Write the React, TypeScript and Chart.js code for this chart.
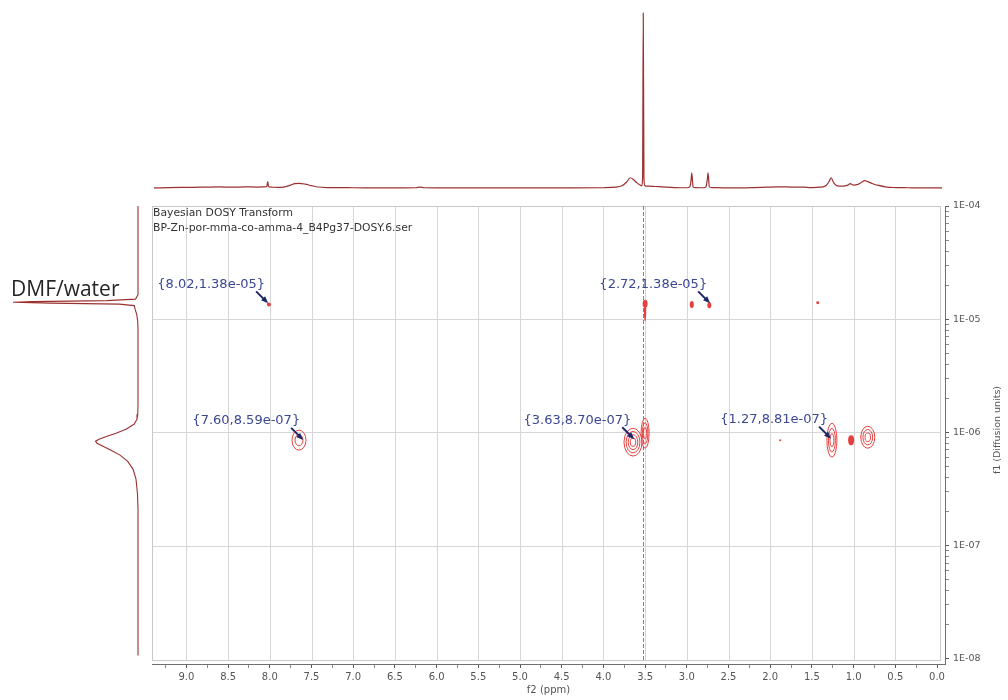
import React, { useEffect, useRef } from 'react';
import { Chart, registerables } from 'chart.js';

Chart.register(...registerables);

// ---------------- data ----------------
// 1D projection on top (f2, ppm)
const spectrumPpm = [
  9.39, 9.2, 9.0, 8.8, 8.6, 8.45, 8.3, 8.15, 8.06, 8.035, 8.025, 8.015, 7.98, 7.9, 7.82, 7.75,
  7.7, 7.65, 7.58, 7.5, 7.42, 7.3, 7.0, 6.6, 6.25, 6.2, 6.15, 5.8, 5.0, 4.4, 4.0, 3.85,
  3.78, 3.72, 3.68, 3.64, 3.6, 3.56, 3.54, 3.53, 3.522, 3.514, 3.505, 3.49, 3.45, 3.38, 3.3, 3.15,
  3.0, 2.965, 2.95, 2.94, 2.925, 2.9, 2.8, 2.77, 2.755, 2.745, 2.73, 2.7, 2.5, 2.3, 2.2, 2.05,
  1.9, 1.75, 1.6, 1.5, 1.4, 1.33, 1.29, 1.27, 1.24, 1.2, 1.13, 1.07, 1.04, 1.0, 0.95, 0.9,
  0.87, 0.83, 0.77, 0.7, 0.62, 0.5, 0.35, 0.15, -0.06,
];
const spectrumIntensity = [
  0.0, 0.002, 0.003, 0.004, 0.006, 0.004, 0.006, 0.005, 0.006, 0.01, 0.036, 0.008, 0.004, 0.003, 0.006, 0.016,
  0.024, 0.026, 0.022, 0.013, 0.005, 0.002, 0.001, 0.0, 0.001, 0.004, 0.001, 0.0, 0.0, 0.0, 0.001, 0.004,
  0.012, 0.034, 0.058, 0.048, 0.03, 0.016, 0.012, 0.06, 1.0, 0.06, 0.014, 0.01, 0.01, 0.008, 0.006, 0.002,
  0.001, 0.006, 0.04, 0.086, 0.006, 0.002, 0.001, 0.006, 0.045, 0.086, 0.006, 0.002, 0.0, 0.0, 0.002, 0.004,
  0.006, 0.005, 0.004, 0.002, 0.004, 0.014, 0.04, 0.058, 0.03, 0.012, 0.01, 0.016, 0.024, 0.016, 0.02, 0.034,
  0.042, 0.036, 0.024, 0.014, 0.006, 0.002, 0.001, 0.0, 0.0,
];

// 1D projection on the left (f1, diffusion)
const projD = [
  1e-4, 1.65e-5, 1.503e-5, 1.458e-5, 1.429e-5, 1.412e-5, 1.387e-5, 1.358e-5, 1.318e-5, 1.215e-5, 1.098e-5, 9.53e-6,
  8.1e-6, 1.771e-6, 1.446e-6, 1.307e-6, 1.181e-6, 1.067e-6, 9.84e-7, 9.26e-7, 8.71e-7, 8.37e-7, 8.03e-7, 7.56e-7,
  6.97e-7, 6.3e-7, 5.58e-7, 4.74e-7, 3.87e-7, 2.86e-7, 2.11e-7, 1.07e-8,
];
const projIntensity = [
  0.0, 0.0, 0.02, 0.25, 0.85, 1.0, 0.7, 0.15, 0.03, 0.022, 0.01, 0.002,
  0.0, 0.0, 0.002, 0.008, 0.032, 0.096, 0.176, 0.248, 0.312, 0.34, 0.328, 0.28,
  0.216, 0.144, 0.084, 0.04, 0.016, 0.004, 0.0, 0.0,
];
const projLabel = 'DMF/water';

// picked peaks
const annPpm = [8.02, 2.72, 7.6, 3.63, 1.27];
const annD = [1.38e-5, 1.38e-5, 8.59e-7, 8.7e-7, 8.81e-7];
const annLabels = ['{8.02,1.38e-05}', '{2.72,1.38e-05}', '{7.60,8.59e-07}', '{3.63,8.70e-07}', '{1.27,8.81e-07}'];

// DOSY contour peaks (centre, half width in ppm, half height in decades, number of levels)
const contourPpm = [8.01, 3.5, 3.5, 2.94, 2.73, 1.43, 7.65, 3.645, 3.5, 1.26, 1.03, 0.83, 1.88];
const contourD = [1.35e-5, 1.37e-5, 1.17e-5, 1.35e-5, 1.33e-5, 1.4e-5, 8.54e-7, 8.2e-7, 9.84e-7, 8.54e-7, 8.54e-7, 9.07e-7, 8.54e-7];
const contourHalfWidthPpm = [0.024, 0.03, 0.014, 0.024, 0.024, 0.018, 0.084, 0.108, 0.048, 0.06, 0.036, 0.084, 0.012];
const contourHalfHeightDec = [0.018, 0.035, 0.088, 0.031, 0.026, 0.013, 0.088, 0.123, 0.132, 0.15, 0.044, 0.097, 0.009];
const contourLevels = [1, 1, 1, 1, 1, 1, 2, 4, 3, 3, 1, 3, 1];

const cursorPpm = 3.52;

// axes
const xMajorTicks = [9.0, 8.5, 8.0, 7.5, 7.0, 6.5, 6.0, 5.5, 5.0, 4.5, 4.0, 3.5, 3.0, 2.5, 2.0, 1.5, 1.0, 0.5, 0.0];
const xTickLabels = ['9.0', '8.5', '8.0', '7.5', '7.0', '6.5', '6.0', '5.5', '5.0', '4.5', '4.0', '3.5', '3.0', '2.5', '2.0', '1.5', '1.0', '0.5', '0.0'];
const xMinorTicks = [9.25, 8.75, 8.25, 7.75, 7.25, 6.75, 6.25, 5.75, 5.25, 4.75, 4.25, 3.75, 3.25, 2.75, 2.25, 1.75, 1.25, 0.75, 0.25];
const yMajorTicks = [1e-8, 1e-7, 1e-6, 1e-5, 1e-4];
const yTickLabels = ['1E-08', '1E-07', '1E-06', '1E-05', '1E-04'];
const yMinorFactors = [2, 3, 4, 5, 6, 7, 8, 9];
const titleLines = ['Bayesian DOSY Transform', 'BP-Zn-por-mma-co-amma-4_B4Pg37-DOSY.6.ser'];
const xTitle = 'f2 (ppm)';
const yTitle = 'f1 (Diffusion units)';

// ---------------- geometry ----------------
const W = 1008;
const H = 700;
const X_MIN = -0.0959;
const X_MAX = 9.4125;
const Y_MIN = 9.296e-9;
const Y_MAX = 1e-4;
const FRAME_RIGHT = 940;
const FRAME_BOTTOM = 660;
const FONT = '"DejaVu Sans", Verdana, sans-serif';

const decorPlugin = {
  id: 'dosyDecor',
  beforeDatasetsDraw(chart: any) {
    const { ctx, chartArea, scales } = chart;
    const x = scales.x;
    const y = scales.y;
    const L = chartArea.left;
    const T = chartArea.top;
    ctx.save();
    ctx.strokeStyle = '#d6d6d6';
    ctx.lineWidth = 1;
    ctx.beginPath();
    xMajorTicks.forEach((v) => {
      if (v <= 0) return;
      const px = Math.round(x.getPixelForValue(v)) + 0.5;
      ctx.moveTo(px, T);
      ctx.lineTo(px, FRAME_BOTTOM);
    });
    yMajorTicks.forEach((v) => {
      if (v >= Y_MAX || v <= 1e-8) return;
      const py = Math.round(y.getPixelForValue(v)) + 0.5;
      ctx.moveTo(L, py);
      ctx.lineTo(FRAME_RIGHT, py);
    });
    ctx.stroke();
    ctx.strokeStyle = '#c8c8c8';
    ctx.strokeRect(L + 0.5, T + 0.5, FRAME_RIGHT - L, FRAME_BOTTOM - T);
    // cursor line
    const cx = Math.round(x.getPixelForValue(cursorPpm)) + 0.5;
    ctx.strokeStyle = 'rgba(140,95,170,0.9)';
    ctx.setLineDash([4, 2]);
    ctx.beginPath();
    ctx.moveTo(cx, T);
    ctx.lineTo(cx, FRAME_BOTTOM);
    ctx.stroke();
    ctx.setLineDash([]);
    ctx.restore();
  },
  afterDatasetsDraw(chart: any) {
    const { ctx, chartArea, scales } = chart;
    const x = scales.x;
    const y = scales.y;
    ctx.save();
    // contours
    ctx.strokeStyle = '#e5403f';
    ctx.fillStyle = '#e5403f';
    ctx.lineWidth = 1;
    contourPpm.forEach((p, i) => {
      const cx = x.getPixelForValue(p);
      const cy = y.getPixelForValue(contourD[i]);
      const rx = Math.abs(x.getPixelForValue(p + contourHalfWidthPpm[i]) - cx);
      const ry = Math.abs(y.getPixelForValue(contourD[i] * Math.pow(10, contourHalfHeightDec[i])) - cy);
      const n = contourLevels[i];
      for (let k = 0; k < n; k++) {
        const s = 1 - k / (n + 0.3);
        ctx.beginPath();
        ctx.ellipse(cx, cy, Math.max(rx * s, 0.8), Math.max(ry * s, 0.8), 0, 0, Math.PI * 2);
        if (rx < 3.2) ctx.fill();
        else ctx.stroke();
      }
    });
    // annotation arrows and labels
    annPpm.forEach((p, i) => {
      const px = x.getPixelForValue(p);
      const py = y.getPixelForValue(annD[i]);
      ctx.strokeStyle = '#1d2766';
      ctx.fillStyle = '#1d2766';
      ctx.lineWidth = 2;
      ctx.beginPath();
      ctx.moveTo(px - 12, py - 12);
      ctx.lineTo(px - 4, py - 4);
      ctx.stroke();
      ctx.beginPath();
      ctx.moveTo(px, py);
      ctx.lineTo(px - 7, py - 3);
      ctx.lineTo(px - 3, py - 7);
      ctx.closePath();
      ctx.fill();
      ctx.fillStyle = '#3b4793';
      ctx.font = `13px ${FONT}`;
      ctx.textAlign = 'right';
      ctx.textBaseline = 'middle';
      ctx.fillText(annLabels[i], px - 3, py - 19);
    });
    // header text
    ctx.fillStyle = '#333';
    ctx.font = `10.8px ${FONT}`;
    ctx.textAlign = 'left';
    ctx.textBaseline = 'middle';
    titleLines.forEach((t, i) => ctx.fillText(t, chartArea.left + 1, chartArea.top + 7 + i * 15));
    // axis titles
    ctx.fillStyle = '#555';
    ctx.font = `10px ${FONT}`;
    ctx.textAlign = 'center';
    ctx.fillText(xTitle, (chartArea.left + chartArea.right) / 2, 690);
    ctx.translate(998, 430);
    ctx.rotate(-Math.PI / 2);
    ctx.font = `9.5px ${FONT}`;
    ctx.fillText(yTitle, 0, 0);
    ctx.restore();
  },
};

const projLabelPlugin = {
  id: 'projLabel',
  afterDraw(chart: any) {
    const { ctx } = chart;
    ctx.save();
    ctx.fillStyle = '#262626';
    ctx.font = '21px "Open Sans", "Noto Sans", sans-serif';
    ctx.textAlign = 'left';
    ctx.textBaseline = 'alphabetic';
    ctx.fillText(projLabel, 11, 296);
    ctx.restore();
  },
};

const basePlugins = { legend: { display: false }, tooltip: { enabled: false } };

export default function App() {
  const mainRef = useRef<HTMLCanvasElement>(null);
  const topRef = useRef<HTMLCanvasElement>(null);
  const leftRef = useRef<HTMLCanvasElement>(null);

  useEffect(() => {
    const charts: Chart[] = [];

    const xTicks = [
      ...xMajorTicks.map((v) => ({ value: v, major: true })),
      ...xMinorTicks.map((v) => ({ value: v, major: false })),
    ].sort((a, b) => a.value - b.value);
    const yTicks: { value: number; major: boolean }[] = [];
    yMajorTicks.forEach((m) => {
      yTicks.push({ value: m, major: true });
      if (m < Y_MAX) yMinorFactors.forEach((f) => yTicks.push({ value: m * f, major: false }));
    });
    yTicks.sort((a, b) => a.value - b.value);

    if (mainRef.current) {
      charts.push(
        new Chart(mainRef.current, {
          type: 'scatter',
          data: {
            datasets: [
              {
                data: annPpm.map((p, i) => ({ x: p, y: annD[i] })),
                pointRadius: 0,
                showLine: false,
              },
            ],
          },
          options: {
            responsive: false,
            animation: false,
            events: [],
            layout: { padding: { left: 152, top: 206, right: 0, bottom: 0 } },
            plugins: basePlugins as any,
            scales: {
              x: {
                type: 'linear',
                reverse: true,
                min: X_MIN,
                max: X_MAX,
                position: 'bottom',
                afterBuildTicks: (s: any) => {
                  s.ticks = xTicks.map((t) => ({ ...t }));
                },
                afterFit: (s: any) => {
                  s.height = 36;
                },
                grid: {
                  drawOnChartArea: false,
                  drawTicks: true,
                  tickLength: 4,
                  tickColor: (c: any) => (c.tick && c.tick.major ? '#555' : '#8a8a8a'),
                },
                border: { display: true, color: '#707070', width: 1 },
                ticks: {
                  autoSkip: false,
                  maxRotation: 0,
                  minRotation: 0,
                  padding: 3,
                  color: '#555',
                  font: { family: FONT, size: 10 },
                  callback: (v: any) => {
                    const i = xMajorTicks.findIndex((t) => Math.abs(t - Number(v)) < 1e-6);
                    return i >= 0 ? xTickLabels[i] : '';
                  },
                },
              } as any,
              y: {
                type: 'logarithmic',
                position: 'right',
                min: Y_MIN,
                max: Y_MAX,
                afterBuildTicks: (s: any) => {
                  s.ticks = yTicks.map((t) => ({ ...t }));
                },
                afterFit: (s: any) => {
                  s.width = W - 945;
                },
                grid: {
                  drawOnChartArea: false,
                  drawTicks: true,
                  tickLength: 4,
                  tickColor: (c: any) => (c.tick && c.tick.major ? '#555' : '#8a8a8a'),
                },
                border: { display: true, color: '#707070', width: 1 },
                ticks: {
                  autoSkip: false,
                  padding: 4,
                  color: '#555',
                  font: { family: FONT, size: 9.5 },
                  callback: (v: any) => {
                    const i = yMajorTicks.findIndex((t) => Math.abs(t - Number(v)) / t < 1e-6);
                    return i >= 0 ? yTickLabels[i] : '';
                  },
                },
              } as any,
            },
          },
          plugins: [decorPlugin],
        })
      );
    }

    if (topRef.current) {
      charts.push(
        new Chart(topRef.current, {
          type: 'scatter',
          data: {
            datasets: [
              {
                data: spectrumPpm.map((p, i) => ({ x: p, y: spectrumIntensity[i] })),
                showLine: true,
                pointRadius: 0,
                borderColor: '#9c3030',
                borderWidth: 1.2,
                cubicInterpolationMode: 'monotone',
                clip: false,
              } as any,
            ],
          },
          options: {
            responsive: false,
            animation: false,
            events: [],
            layout: { padding: { left: 152, right: W - 945, top: 13, bottom: 10 } },
            plugins: basePlugins as any,
            scales: {
              x: { type: 'linear', reverse: true, min: X_MIN, max: X_MAX, display: false },
              y: { type: 'linear', min: -0.012, max: 1, display: false },
            },
          },
        })
      );
    }

    if (leftRef.current) {
      charts.push(
        new Chart(leftRef.current, {
          type: 'scatter',
          data: {
            datasets: [
              {
                data: projIntensity.map((v, i) => ({ x: v, y: projD[i] })),
                showLine: true,
                pointRadius: 0,
                borderColor: '#9c3030',
                borderWidth: 1.1,
                tension: 0,
                clip: false,
              } as any,
            ],
          },
          options: {
            responsive: false,
            animation: false,
            events: [],
            layout: { padding: { left: 13, right: 14, top: 206, bottom: 36 } },
            plugins: basePlugins as any,
            scales: {
              x: { type: 'linear', reverse: true, min: 0, max: 1, display: false },
              y: { type: 'logarithmic', min: Y_MIN, max: Y_MAX, display: false },
            },
          },
          plugins: [projLabelPlugin],
        })
      );
    }

    return () => {
      charts.forEach((c) => c.destroy());
    };
  }, []);

  const abs: React.CSSProperties = { position: 'absolute', left: 0, top: 0 };
  return (
    <div style={{ position: 'absolute', left: 0, top: 0, width: W, height: H, background: '#fff', overflow: 'hidden' }}>
      <canvas ref={mainRef} width={W} height={H} style={abs} />
      <canvas ref={topRef} width={W} height={200} style={abs} />
      <canvas ref={leftRef} width={152} height={H} style={abs} />
    </div>
  );
}
